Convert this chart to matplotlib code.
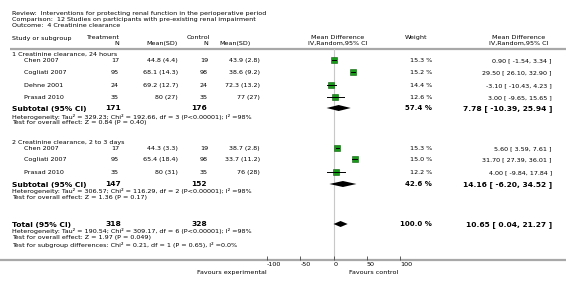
import matplotlib
matplotlib.use("Agg")
import matplotlib.pyplot as plt

# group 1: creatinine clearance, 24 hours
studies1 = ["Chen 2007", "Cogliati 2007", "Dehne 2001", "Prasad 2010"]
tn1 = [17, 95, 24, 35]
tm1 = [44.8, 68.1, 69.2, 80]
tsd1 = [4.4, 14.3, 12.7, 27]
cn1 = [19, 98, 24, 35]
cm1 = [43.9, 38.6, 72.3, 77]
csd1 = [2.8, 9.2, 13.2, 27]
w1 = [15.3, 15.2, 14.4, 12.6]
md1 = [0.90, 29.50, -3.10, 3.00]
lo1 = [-1.54, 26.10, -10.43, -9.65]
hi1 = [3.34, 32.90, 4.23, 15.65]
sub1 = dict(tn=171, cn=176, w=57.4, md=7.78, lo=-10.39, hi=25.94)
het1 = ["Heterogeneity: Tau\u00b2 = 329.23; Chi\u00b2 = 192.66, df = 3 (P<0.00001); I\u00b2 =98%",
        "Test for overall effect: Z = 0.84 (P = 0.40)"]

# group 2: creatinine clearance, 2 to 3 days
studies2 = ["Chen 2007", "Cogliati 2007", "Prasad 2010"]
tn2 = [17, 95, 35]
tm2 = [44.3, 65.4, 80]
tsd2 = [3.3, 18.4, 31]
cn2 = [19, 98, 35]
cm2 = [38.7, 33.7, 76]
csd2 = [2.8, 11.2, 28]
w2 = [15.3, 15.0, 12.2]
md2 = [5.60, 31.70, 4.00]
lo2 = [3.59, 27.39, -9.84]
hi2 = [7.61, 36.01, 17.84]
sub2 = dict(tn=147, cn=152, w=42.6, md=14.16, lo=-6.20, hi=34.52)
het2 = ["Heterogeneity: Tau\u00b2 = 306.57; Chi\u00b2 = 116.29, df = 2 (P<0.00001); I\u00b2 =98%",
        "Test for overall effect: Z = 1.36 (P = 0.17)"]

total = dict(tn=318, cn=328, w=100.0, md=10.65, lo=0.04, hi=21.27)
het_tot = ["Heterogeneity: Tau\u00b2 = 190.54; Chi\u00b2 = 309.17, df = 6 (P<0.00001); I\u00b2 =98%",
           "Test for overall effect: Z = 1.97 (P = 0.049)",
           "Test for subgroup differences: Chi\u00b2 = 0.21, df = 1 (P = 0.65), I\u00b2 =0.0%"]

xticks = [-100, -50, 0, 50, 100]

FS = 4.55
FB = 5.4
GREY = "#a8a8a8"

fig = plt.figure(figsize=(5.66, 2.84), dpi=100)
bg = fig.add_axes([0, 0, 1, 1])
bg.set_xlim(0, 566)
bg.set_ylim(284, 0)
bg.axis("off")

# forest panel: x in mean difference units, y in pixel rows (same as bg)
fa = fig.add_axes([267 / 566, 24 / 284, 133 / 566, 260 / 284])
fa.set_xlim(-100, 100)
fa.set_ylim(260, 0)
fa.patch.set_visible(False)
for s in fa.spines.values():
    s.set_visible(False)
fa.set_yticks([])
fa.set_xticks(xticks)
fa.set_xticklabels([str(t) for t in xticks], ha="left")
fa.tick_params(axis="x", direction="in", length=3, width=0.6, color="#444444",
               labelsize=FS, pad=1.5)
fa.axvline(0, ymin=0, ymax=(260 - 49) / 260, color="#c8c8c8", lw=0.8, zorder=0)


def t(x, y, s, ha="left", bold=False, size=None):
    bg.text(x, y, s, ha=ha, va="center_baseline", fontsize=size or (FB if bold else FS),
            fontweight="bold" if bold else "normal", color="black")


def ci(md, lo, hi):
    return f"{md:.2f} [ {lo:.2f}, {hi:.2f} ]"


t(12, 13, "Review:  Interventions for protecting renal function in the perioperative period")
t(12, 19, "Comparison:  12 Studies on participants with pre-existing renal impairment")
t(12, 25, "Outcome:  4 Creatinine clearance")

t(12, 38, "Study or subgroup")
t(119, 37, "Treatment", ha="right")
t(119, 43, "N", ha="right")
t(178, 43, "Mean(SD)", ha="right")
t(210, 37, "Control", ha="right")
t(208, 43, "N", ha="right")
t(251, 43, "Mean(SD)", ha="right")
t(338, 37, "Mean Difference", ha="center")
t(338, 43, "IV,Random,95% CI", ha="center")
t(416, 37, "Weight", ha="center")
t(519, 37, "Mean Difference", ha="center")
t(519, 43, "IV,Random,95% CI", ha="center")
bg.plot([10, 566], [49, 49], color=GREY, lw=1.6, solid_capstyle="butt")


def study_rows(ys, names, tn, tm, tsd, cn, cm, csd, w, md, lo, hi):
    for i, y in enumerate(ys):
        t(24, y, names[i])
        t(119, y, str(tn[i]), ha="right")
        t(178, y, f"{tm[i]:g} ({tsd[i]:g})", ha="right")
        t(208, y, str(cn[i]), ha="right")
        t(260, y, f"{cm[i]:g} ({csd[i]:g})", ha="right")
        t(432, y, f"{w[i]:.1f} %", ha="right")
        t(552, y, ci(md[i], lo[i], hi[i]), ha="right")
        fa.plot([lo[i], hi[i]], [y, y], color="black", lw=0.7, zorder=3)
        fa.plot(md[i], y, marker="s", ms=w[i] ** 0.5 * 1.05, mfc="#1a9a1a",
                mec="#0b5e0b", mew=0.4, zorder=2)


def summary_row(y, label, d):
    t(12, y, label, bold=True)
    t(121, y, str(d["tn"]), ha="right", bold=True)
    t(207, y, str(d["cn"]), ha="right", bold=True)
    t(432, y, f"{d['w']:.1f} %", ha="right", bold=True, size=5.0)
    t(552, y, ci(d["md"], d["lo"], d["hi"]), ha="right", bold=True, size=5.4)
    fa.fill([d["lo"], d["md"], d["hi"], d["md"]], [y, y - 3, y, y + 3],
            color="black", lw=0, zorder=3)


t(12, 54, "1 Creatinine clearance, 24 hours")
study_rows([60, 72, 85, 97], studies1, tn1, tm1, tsd1, cn1, cm1, csd1, w1, md1, lo1, hi1)
summary_row(108, "Subtotal (95% CI)", sub1)
for k, line in enumerate(het1):
    t(12, 116 + 6 * k, line)

t(12, 142, "2 Creatinine clearance, 2 to 3 days")
study_rows([148, 159, 172], studies2, tn2, tm2, tsd2, cn2, cm2, csd2, w2, md2, lo2, hi2)
summary_row(184, "Subtotal (95% CI)", sub2)
for k, line in enumerate(het2):
    t(12, 191 + 6 * k, line)

summary_row(224, "Total (95% CI)", total)
for k, line in enumerate(het_tot):
    t(12, 231 + 6.5 * k, line)

bg.plot([0, 566], [260, 260], color=GREY, lw=1.6, solid_capstyle="butt")
t(267, 272, "Favours experimental", ha="right")
t(349, 272, "Favours control")

fig.savefig("out.png", dpi=100)
